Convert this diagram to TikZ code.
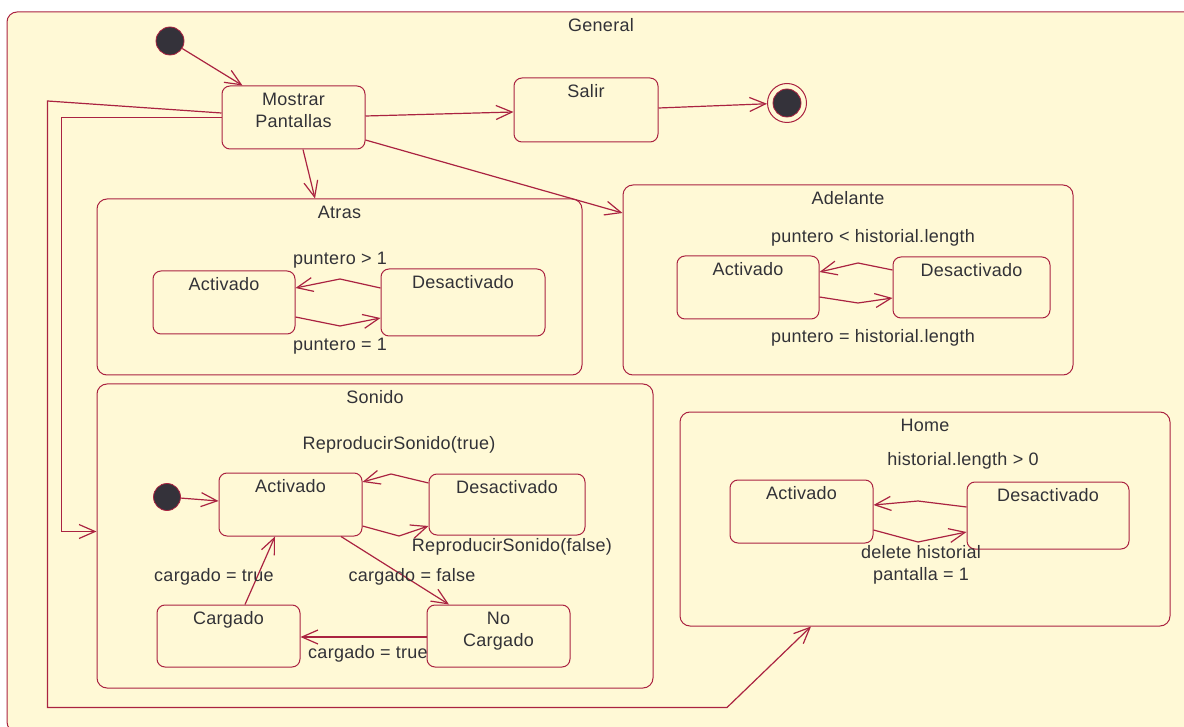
\documentclass[tikz,border=0pt]{standalone}
\usepackage{fontspec}
\setmainfont[LetterSpace=1.5]{Liberation Sans}
\usetikzlibrary{arrows.meta}
\definecolor{stfill}{RGB}{255,249,214}
\definecolor{stline}{RGB}{170,35,65}
\definecolor{txt}{RGB}{50,50,55}
\definecolor{dotfill}{RGB}{52,50,58}

\begin{document}
\begin{tikzpicture}[x=1pt,y=-1pt,
  every node/.style={font=\fontsize{18}{22.5}\selectfont, text=txt},
  comp/.style={draw=stline, fill=stfill, line width=1pt, rounded corners=10pt, inner sep=0pt},
  simple/.style={draw=stline, fill=stfill, line width=1pt, rounded corners=8pt, inner sep=0pt},
  stname/.style={anchor=north, yshift=-3pt, align=center, inner sep=4pt},
  trans/.style={draw=stline, line width=1.2pt, -{Straight Barb[length=16pt,width=14pt]}},
  pseudo/.style={circle, draw=stline, fill=dotfill, line width=0.8pt, minimum size=#1, inner sep=0pt},
  guard/.style={inner sep=1pt, align=center},
]
\useasboundingbox (0,0) rectangle (1184,727);
\clip (0,0) rectangle (1184,727);
\fill[white] (0,0) rectangle (1184,727);

% outer composite state
\node[comp, minimum width=1188pt, minimum height=720pt,
      label={[stname]north:General}] (general) at (601,372) {};

% nested composite states
\node[comp, minimum width=485pt, minimum height=176pt,
      label={[stname]north:Atras}] (atras) at (339.5,287) {};
\node[comp, minimum width=450pt, minimum height=190pt,
      label={[stname]north:Adelante}] (adelante) at (848,280) {};
\node[comp, minimum width=556pt, minimum height=304pt,
      label={[stname]north:Sonido}] (sonido) at (375,536) {};
\node[comp, minimum width=490pt, minimum height=214pt,
      label={[stname]north:Home}] (home) at (925,519) {};

% top level states
\node[pseudo=28pt] (init) at (170,41) {};
\node[simple, minimum width=143pt, minimum height=63pt,
      label={[stname]north:Mostrar\\Pantallas}] (mp) at (293.5,117.5) {};
\node[simple, minimum width=144pt, minimum height=64pt,
      label={[stname]north:Salir}] (salir) at (586,110) {};
\node[circle, draw=stline, fill=stfill, line width=1pt, minimum size=39pt, inner sep=0pt] (fin) at (787,103) {};
\node[pseudo=28pt] (finin) at (fin) {};

% Atras
\node[simple, minimum width=142pt, minimum height=63pt,
      label={[stname]north:Activado}] (aA) at (224,302.5) {};
\node[simple, minimum width=164pt, minimum height=67pt,
      label={[stname]north:Desactivado}] (aD) at (463,302.5) {};

% Adelante
\node[simple, minimum width=142pt, minimum height=63pt,
      label={[stname]north:Activado}] (dA) at (748,287.5) {};
\node[simple, minimum width=157pt, minimum height=61pt,
      label={[stname]north:Desactivado}] (dD) at (971.5,287.5) {};

% Sonido
\node[pseudo=27pt] (sinit) at (167,497) {};
\node[simple, minimum width=143pt, minimum height=63pt,
      label={[stname]north:Activado}] (sA) at (290.5,504.5) {};
\node[simple, minimum width=156pt, minimum height=61pt,
      label={[stname]north:Desactivado}] (sD) at (507,504.5) {};
\node[simple, minimum width=143pt, minimum height=62pt,
      label={[stname]north:Cargado}] (sC) at (228.5,636) {};
\node[simple, minimum width=143pt, minimum height=62pt,
      label={[stname]north:No\\Cargado}] (sN) at (498.5,636) {};

% Home
\node[simple, minimum width=143pt, minimum height=63pt,
      label={[stname]north:Activado}] (hA) at (801.5,511.5) {};
\node[simple, minimum width=162pt, minimum height=67pt,
      label={[stname]north:Desactivado}] (hD) at (1048,515.5) {};

% top level transitions
\draw[trans] (init) -- ([xshift=21pt]mp.north west);
\draw[trans] ([yshift=1.5pt]mp.east) -- ([yshift=-2pt]salir.west);
\draw[trans] ([yshift=2pt]salir.east) -- (fin);
\draw[trans] ([xshift=9.5pt]mp.south) -- ([xshift=-24.5pt]atras.north);
\draw[trans] ([yshift=-22.5pt]mp.east) -- ([yshift=67pt]adelante.west);
\draw[trans] ([yshift=4.5pt]mp.west) -- (47.5,101) -- (47.5,707.5) -- (727,707.5) -- ([xshift=-114pt]home.south);
\draw[trans] ([yshift=0pt]mp.west) -- (61.5,117.5) -- (61.5,531.5) -- ([yshift=4.5pt]sonido.west);

% Atras transitions
\draw[trans] ([yshift=14.5pt]aD.west) -- (340,279) -- ([yshift=14.5pt]aA.east);
\draw[trans] ([yshift=-14.5pt]aA.east) -- (340,326) -- ([yshift=-15.5pt]aD.west);
\node[guard] (gA1) at (340,260) {puntero > 1};
\node[guard] (gA2) at (340,346) {puntero = 1};

% Adelante transitions
\draw[trans] ([yshift=17.5pt]dD.west) -- (858,263) -- ([yshift=15.5pt]dA.east);
\draw[trans] ([yshift=-9.5pt]dA.east) -- (858,303) -- ([yshift=-10.5pt]dD.west);
\node[guard] (gD1) at (873,238) {puntero < historial.length};
\node[guard] (gD2) at (873,338) {puntero = historial.length};

% Sonido transitions
\draw[trans] (sinit) -- ([yshift=3.5pt]sA.west);
\draw[trans] ([yshift=21.5pt]sD.west) -- (391,474) -- ([yshift=22.5pt]sA.east);
\draw[trans] ([yshift=-21.5pt]sA.east) -- (399,536) -- ([yshift=-21.5pt]sD.west);
\draw[trans] ([xshift=50.5pt]sA.south) -- ([xshift=-49.5pt]sN.north);
\draw[trans] ([yshift=-1pt]sN.west) -- ([yshift=-1pt]sC.east);
\draw[trans] ([xshift=16.5pt]sC.north) -- ([xshift=-15.5pt]sA.south);
\node[guard] (gS1) at (399,445) {ReproducirSonido(true)};
\node[guard] (gS2) at (512,547) {ReproducirSonido(false)};
\node[guard] (gS3) at (412,577) {cargado = false};
\node[guard] (gS4) at (214,577) {cargado = true};
\node[guard] (gS5) at (368,654) {cargado = true};

% Home transitions
\draw[trans] ([yshift=8.5pt]hD.west) -- (918,501) -- ([yshift=6.5pt]hA.east);
\draw[trans] ([yshift=-18.5pt]hA.east) -- (918,542) -- ([yshift=-16.5pt]hD.west);
\node[guard] (gH1) at (963,461) {historial.length > 0};
\node[guard] (gH2) at (921,565) {delete historial\\pantalla = 1};
\end{tikzpicture}
\end{document}
